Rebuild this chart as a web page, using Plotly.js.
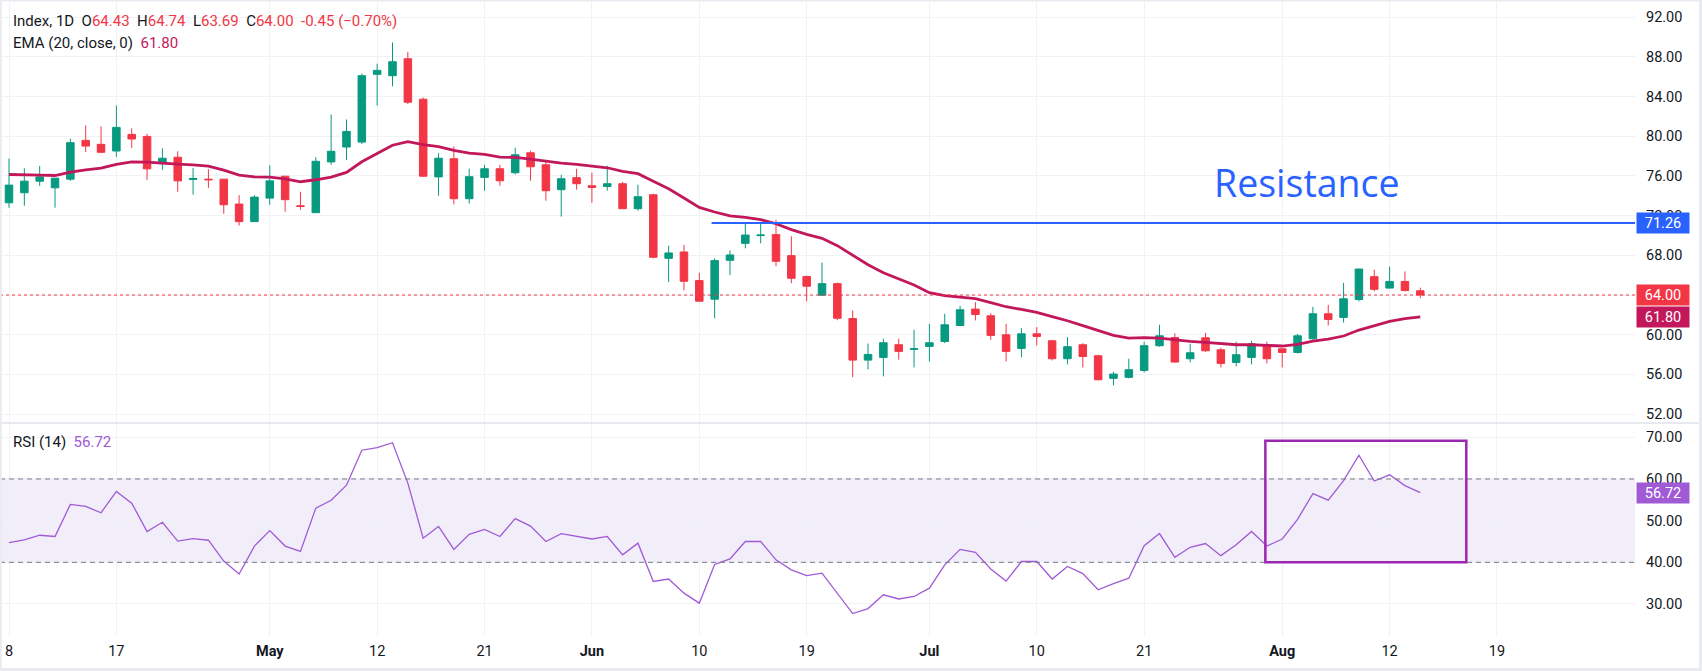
<!DOCTYPE html>
<html>
<head>
<meta charset="utf-8">
<script src="https://cdn.plot.ly/plotly-3.0.1.min.js"></script>
<style>
  html, body { margin: 0; padding: 0; background: #ffffff; }
  #chart { width: 1702px; height: 671px; }
</style>
</head>
<body>
<div id="chart"></div>
<script>
// ---------------- DATA ----------------
// daily bars, Apr 8 -> Aug 14 (bar index 0..92)
const openPx  = [73.30,74.31,75.48,74.81,75.68,79.59,79.19,78.52,80.19,79.99,
                 77.25,77.89,75.65,75.68,75.68,73.17,71.40,73.77,75.98,73.00,
                 72.30,77.42,78.92,79.42,86.25,86.11,87.82,83.74,75.91,77.74,
                 73.71,75.86,76.73,76.33,78.34,77.13,74.62,75.83,75.02,74.95,
                 75.22,72.70,74.11,67.70,68.34,65.46,63.58,67.50,69.21,69.99,
                 70.09,67.97,65.86,63.98,65.15,61.63,57.44,57.71,58.99,58.52,
                 58.82,59.32,60.93,62.58,61.91,59.99,58.62,60.09,59.39,57.58,
                 58.99,57.88,55.60,55.70,56.40,58.89,59.72,57.58,59.69,58.48,
                 57.21,57.71,58.99,58.58,58.21,59.59,62.11,61.74,63.55,65.85,
                 64.70,65.37,64.43];
const highPx  = [77.75,76.78,77.02,75.78,79.76,81.10,81.00,83.10,80.80,80.26,
                 78.79,78.49,76.82,76.68,75.70,74.07,74.07,77.08,76.00,74.41,
                 77.89,82.20,81.70,86.31,87.32,89.46,88.52,83.91,78.29,78.98,
                 76.73,77.13,77.13,78.85,78.54,77.54,76.13,76.73,76.33,77.03,
                 75.42,75.12,74.21,68.98,69.05,66.23,67.70,68.51,71.36,71.36,
                 71.60,69.92,65.96,67.27,65.25,62.44,59.11,59.59,59.59,60.50,
                 61.10,62.11,62.91,63.28,62.17,61.10,60.66,60.77,59.46,59.76,
                 59.15,57.98,56.27,57.58,59.29,61.00,60.13,59.09,60.19,58.68,
                 59.29,59.39,59.29,58.60,60.09,62.81,63.01,65.23,66.64,66.56,
                 66.88,66.38,64.74];
const lowPx   = [72.80,73.00,75.01,72.80,75.51,78.42,78.29,77.92,78.82,75.61,
                 76.62,74.41,74.11,74.81,72.20,71.00,71.40,73.10,72.40,72.60,
                 72.28,77.12,77.62,79.22,83.10,85.04,83.24,75.91,74.01,73.14,
                 73.21,74.52,75.02,76.16,75.52,73.51,71.90,74.62,73.31,74.52,
                 72.70,72.50,67.70,65.30,64.48,63.35,61.66,66.00,68.71,69.21,
                 66.90,65.19,63.38,63.95,61.46,55.72,56.50,55.80,57.48,56.70,
                 57.31,59.15,60.90,61.44,59.49,57.31,57.71,58.92,57.41,57.01,
                 56.70,55.40,54.89,55.60,56.20,58.79,57.21,57.21,58.28,56.70,
                 56.81,57.01,57.11,56.70,58.11,59.49,60.93,61.23,63.35,64.38,
                 64.68,64.37,63.69];
const closePx = [75.08,75.48,75.91,75.78,79.36,79.02,78.39,80.90,79.73,76.72,
                 77.79,75.51,75.75,75.62,73.10,71.40,73.87,75.51,73.61,72.93,
                 77.48,78.49,80.49,86.11,86.65,87.52,83.44,75.98,77.79,73.71,
                 75.93,76.73,75.52,78.14,76.93,74.52,75.72,75.22,74.85,75.22,
                 72.70,73.91,67.81,68.24,65.39,63.38,67.47,68.04,70.05,70.05,
                 67.40,65.69,64.89,65.15,61.66,57.44,58.01,59.19,58.32,58.58,
                 59.19,61.00,62.51,62.04,59.93,58.32,60.09,59.83,57.58,58.79,
                 57.81,55.46,56.03,56.47,58.89,59.89,57.24,58.18,58.38,57.11,
                 57.98,59.09,57.58,58.21,59.89,62.11,61.54,63.62,66.62,64.58,
                 65.37,64.45,64.00];
// EMA(20, close) as drawn on the reference
const ema20   = [76.15,76.09,76.09,76.05,76.39,76.62,76.79,77.16,77.43,77.39,
                 77.26,77.19,77.13,76.99,76.59,76.09,75.92,75.89,75.72,75.42,
                 75.62,75.89,76.36,77.43,78.26,79.10,79.47,79.17,78.97,78.58,
                 78.31,78.17,77.91,77.87,77.70,77.47,77.30,77.17,77.00,76.83,
                 76.46,76.23,75.46,74.72,73.78,72.84,72.37,71.97,71.83,71.60,
                 71.19,70.59,70.12,69.72,68.98,67.97,67.05,66.25,65.61,65.01,
                 64.24,63.93,63.80,63.63,63.23,62.82,62.55,62.25,61.82,61.41,
                 60.91,60.40,59.93,59.66,59.70,59.66,59.46,59.33,59.23,59.09,
                 58.99,58.99,58.92,58.86,59.03,59.36,59.56,59.87,60.47,60.93,
                 61.35,61.62,61.80];
// RSI(14) as drawn on the reference
const rsi14   = [44.7,45.4,46.5,46.2,53.9,53.4,51.9,57.0,54.2,47.4,
                 49.6,45.1,45.7,45.3,40.3,37.2,43.9,47.6,43.9,42.6,
                 53.0,54.9,58.5,66.9,67.5,68.7,59.0,45.8,48.6,43.1,
                 46.7,47.9,46.2,50.5,48.7,45.0,46.9,46.2,45.6,46.2,
                 41.8,44.6,35.4,36.0,32.6,30.2,39.5,40.8,45.0,45.0,
                 40.6,38.2,36.8,37.4,32.6,27.7,28.9,32.2,31.2,31.8,
                 33.8,39.4,43.1,42.4,38.4,35.5,40.2,40.2,36.0,39.0,
                 37.3,33.4,34.9,36.2,44.0,46.9,41.2,43.6,44.5,41.6,
                 44.2,47.4,43.9,45.6,50.3,56.5,54.9,59.6,65.7,59.5,
                 61.0,58.4,56.72];
// time-axis labels (bar index -> label)
const tickBars   = [0, 7, 17, 24, 31, 38, 45, 52, 60, 67, 74, 83, 90, 97];
const tickLabels = ['8','17','<b>May</b>','12','21','<b>Jun</b>','10','19','<b>Jul</b>','10','21','<b>Aug</b>','12','19'];
// drawn levels
const resistanceLevel = 71.26;
const resistanceFromBar = 46;
const rsiUpper = 60, rsiLower = 40;
const rsiBoxFromBar = 82, rsiBoxToBar = 95, rsiBoxTop = 69.2;
const legendO = '64.43', legendH = '64.74', legendL = '63.69', legendC = '64.00', legendChg = '-0.45 (−0.70%)';

// ---------------- STYLE / LAYOUT ----------------
const W = 1702, H = 671;
const M = {l: 0, r: 67, t: 2, b: 35};
const plotH = H - M.t - M.b;           // 634
const plotW = W - M.l - M.r;           // 1635
const py = p => (H - M.b - p) / plotH; // pixel row -> paper y
const px = p => (p - M.l) / plotW;     // pixel col -> paper x
const UP = '#089981', DN = '#f23645', EMA_C = '#c2185b', RSI_C = '#a05ad6', BLUE = '#2962ff';
const GRID = '#f0f2f6', TXT = '#131722';
const FONT = 'Roboto, "Open Sans", sans-serif';
const bars = closePx.map((_, i) => i);
const nb = '\u00a0';

const traces = [
  {
    type: 'candlestick', x: bars, open: openPx, high: highPx, low: lowPx, close: closePx,
    xaxis: 'x', yaxis: 'y', whiskerwidth: 0,
    increasing: {line: {color: UP, width: 1}, fillcolor: UP},
    decreasing: {line: {color: DN, width: 1}, fillcolor: DN},
    hoverinfo: 'skip', showlegend: false
  },
  {
    type: 'scatter', mode: 'lines', x: bars, y: ema20, xaxis: 'x', yaxis: 'y',
    line: {color: EMA_C, width: 2.8, shape: 'linear'}, hoverinfo: 'skip', showlegend: false
  },
  {
    type: 'scatter', mode: 'lines', x: bars, y: rsi14, xaxis: 'x', yaxis: 'y2',
    line: {color: RSI_C, width: 1.3}, hoverinfo: 'skip', showlegend: false
  }
];

const lastClose = closePx[closePx.length - 1];
const lastEma = ema20[ema20.length - 1];
const lastRsi = rsi14[rsi14.length - 1];
const sepY = py(423);

const shapes = [
  // RSI band
  {type: 'rect', xref: 'paper', yref: 'y2', x0: 0, x1: 1, y0: rsiLower, y1: rsiUpper,
   fillcolor: 'rgba(126,87,194,0.1)', line: {width: 0}, layer: 'below'},
  {type: 'line', xref: 'paper', yref: 'y2', x0: 0, x1: 1, y0: rsiUpper, y1: rsiUpper,
   line: {color: '#787b86', width: 1, dash: '5px,4px'}},
  {type: 'line', xref: 'paper', yref: 'y2', x0: 0, x1: 1, y0: rsiLower, y1: rsiLower,
   line: {color: '#787b86', width: 1, dash: '5px,4px'}},
  // last price dotted line
  {type: 'line', xref: 'paper', yref: 'y', x0: 0, x1: 1, y0: lastClose, y1: lastClose,
   line: {color: DN, width: 1, dash: 'dot'}},
  // resistance
  {type: 'line', xref: 'x', yref: 'y', x0: resistanceFromBar - 0.2, x1: 106, y0: resistanceLevel, y1: resistanceLevel,
   line: {color: BLUE, width: 2}},
  // RSI highlight box
  {type: 'rect', xref: 'x', yref: 'y2', x0: rsiBoxFromBar - 0.1, x1: rsiBoxToBar, y0: rsiLower, y1: rsiBoxTop,
   line: {color: '#9c27b0', width: 2.5}, fillcolor: 'rgba(0,0,0,0)'},
  // pane separator
  {type: 'line', xref: 'paper', yref: 'paper', x0: 0, x1: px(W), y0: sepY, y1: sepY,
   line: {color: '#e0e3eb', width: 1.5}},
  // outer frame
  {type: 'line', xref: 'paper', yref: 'paper', x0: 0, x1: px(W), y0: py(0.5), y1: py(0.5), line: {color: '#e9ebf1', width: 2}},
  {type: 'line', xref: 'paper', yref: 'paper', x0: 0, x1: px(W), y0: py(669.5), y1: py(669.5), line: {color: '#e9ebf1', width: 3}},
  {type: 'line', xref: 'paper', yref: 'paper', x0: px(0.8), x1: px(0.8), y0: py(0), y1: py(H), line: {color: '#e9ebf1', width: 2}},
  {type: 'line', xref: 'paper', yref: 'paper', x0: px(1700.5), x1: px(1700.5), y0: py(0), y1: py(H), line: {color: '#e9ebf1', width: 3}}
];

function priceTag(val, yref, bg) {
  return {xref: 'paper', yref: yref, x: 1, y: val, xanchor: 'left', yanchor: 'middle', xshift: 1,
          text: val.toFixed(2), showarrow: false, bgcolor: bg, width: 50, height: 18, borderpad: 1,
          font: {family: FONT, size: 14.5, color: '#ffffff'}, align: 'center'};
}

const red = s => `<span style="color:${DN}">${s}</span>`;
const annotations = [
  {xref: 'paper', yref: 'paper', x: px(11), y: py(21), xanchor: 'left', yanchor: 'middle', showarrow: false,
   font: {family: FONT, size: 15, color: TXT},
   text: `Index, 1D${nb}${nb}O${red(legendO)}${nb}${nb}H${red(legendH)}${nb}${nb}L${red(legendL)}${nb}${nb}C${red(legendC)}${nb}${nb}${red(legendChg)}`},
  {xref: 'paper', yref: 'paper', x: px(11), y: py(42.5), xanchor: 'left', yanchor: 'middle', showarrow: false,
   font: {family: FONT, size: 15, color: TXT},
   text: `EMA (20, close, 0)${nb}${nb}<span style="color:${EMA_C}">${lastEma.toFixed(2)}</span>`},
  {xref: 'paper', yref: 'paper', x: px(11), y: py(442), xanchor: 'left', yanchor: 'middle', showarrow: false,
   font: {family: FONT, size: 15, color: TXT},
   text: `RSI (14)${nb}${nb}<span style="color:${RSI_C}">${lastRsi.toFixed(2)}</span>`},
  {xref: 'x', yref: 'y', x: 84.6, y: 75.3, xanchor: 'center', yanchor: 'middle', showarrow: false,
   text: 'Resistance', font: {family: '"Open Sans", sans-serif', size: 37.5, color: BLUE}},
  priceTag(resistanceLevel, 'y', BLUE),
  priceTag(lastClose, 'y', DN),
  priceTag(lastEma, 'y', EMA_C),
  priceTag(lastRsi, 'y2', RSI_C)
];

const layout = {
  width: W, height: H, margin: M,
  paper_bgcolor: '#ffffff', plot_bgcolor: '#ffffff',
  showlegend: false, dragmode: false, hovermode: false,
  font: {family: FONT, size: 14.5, color: TXT},
  xaxis: {
    anchor: 'y2', range: [-9 / 15.34, 1626 / 15.34], rangeslider: {visible: false},
    tickmode: 'array', tickvals: tickBars, ticktext: tickLabels,
    showgrid: true, gridcolor: GRID, gridwidth: 1, zeroline: false, showline: false, ticks: '',
    tickfont: {family: FONT, size: 14.5, color: TXT}, ticklabelstandoff: 4, fixedrange: true
  },
  yaxis: {
    domain: [py(423), 1], side: 'right', range: [51.10, 93.54],
    tick0: 0, dtick: 4, tickformat: '.2f',
    showgrid: true, gridcolor: GRID, zeroline: false, showline: false, ticks: '',
    ticklabelstandoff: 10, tickfont: {family: FONT, size: 14.5, color: TXT}, fixedrange: true
  },
  yaxis2: {
    domain: [0, py(424)], side: 'right', range: [22.32, 73.19], anchor: 'x',
    tickmode: 'array', tickvals: [30, 40, 50, 60, 70], tickformat: '.2f',
    showgrid: true, gridcolor: GRID, zeroline: false, showline: false, ticks: '',
    ticklabelstandoff: 10, tickfont: {family: FONT, size: 14.5, color: TXT}, fixedrange: true
  },
  shapes: shapes,
  annotations: annotations
};

Plotly.newPlot('chart', traces, layout, {displayModeBar: false, staticPlot: true});
</script>
</body>
</html>
